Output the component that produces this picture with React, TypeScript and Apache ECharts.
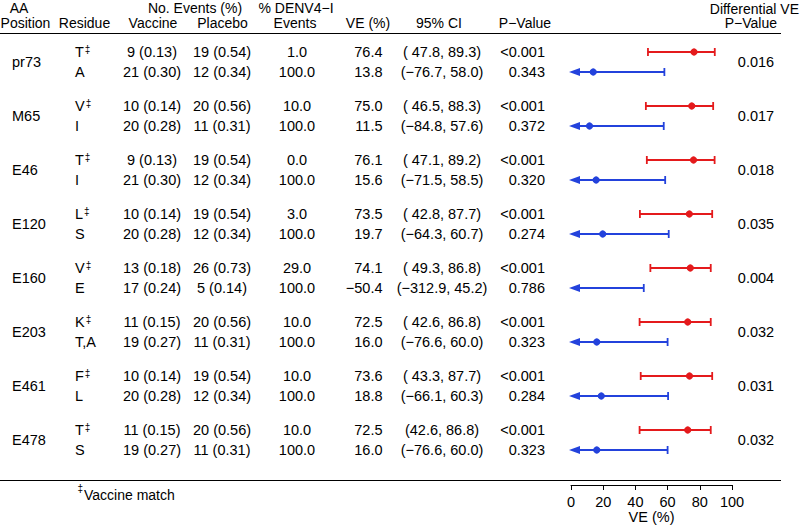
import React, { useEffect, useRef } from 'react';
import * as echarts from 'echarts';

// ---- data ----
const positions = ['pr73', 'M65', 'E46', 'E120', 'E160', 'E203', 'E461', 'E478'];
const residues = [['T', 'A'], ['V', 'I'], ['T', 'I'], ['L', 'S'], ['V', 'E'], ['K', 'T,A'], ['F', 'L'], ['T', 'S']];
const vaccineEvents = [[9, 21], [10, 20], [9, 21], [10, 20], [13, 17], [11, 19], [10, 20], [11, 19]];
const vaccinePct = [[0.13, 0.30], [0.14, 0.28], [0.13, 0.30], [0.14, 0.28], [0.18, 0.24], [0.15, 0.27], [0.14, 0.28], [0.15, 0.27]];
const placeboEvents = [[19, 12], [20, 11], [19, 12], [19, 12], [26, 5], [20, 11], [19, 12], [20, 11]];
const placeboPct = [[0.54, 0.34], [0.56, 0.31], [0.54, 0.34], [0.54, 0.34], [0.73, 0.14], [0.56, 0.31], [0.54, 0.34], [0.56, 0.31]];
const denvPct = [[1.0, 100.0], [10.0, 100.0], [0.0, 100.0], [3.0, 100.0], [29.0, 100.0], [10.0, 100.0], [10.0, 100.0], [10.0, 100.0]];
const veValues = [[76.4, 13.8], [75.0, 11.5], [76.1, 15.6], [73.5, 19.7], [74.1, -50.4], [72.5, 16.0], [73.6, 18.8], [72.5, 16.0]];
const ciLower = [[47.8, -76.7], [46.5, -84.8], [47.1, -71.5], [42.8, -64.3], [49.3, -312.9], [42.6, -76.6], [43.3, -66.1], [42.6, -76.6]];
const ciUpper = [[89.3, 58.0], [88.3, 57.6], [89.2, 58.5], [87.7, 60.7], [86.8, 45.2], [86.8, 60.0], [87.7, 60.3], [86.8, 60.0]];
const ciText = [
  ['( 47.8, 89.3)', '(\u221276.7, 58.0)'],
  ['( 46.5, 88.3)', '(\u221284.8, 57.6)'],
  ['( 47.1, 89.2)', '(\u221271.5, 58.5)'],
  ['( 42.8, 87.7)', '(\u221264.3, 60.7)'],
  ['( 49.3, 86.8)', '(\u2212312.9, 45.2)'],
  ['( 42.6, 86.8)', '(\u221276.6, 60.0)'],
  ['( 43.3, 87.7)', '(\u221266.1, 60.3)'],
  ['(42.6, 86.8)', '(\u221276.6, 60.0)'],
];
const pValues = [['<0.001', '0.343'], ['<0.001', '0.372'], ['<0.001', '0.320'], ['<0.001', '0.274'], ['<0.001', '0.786'], ['<0.001', '0.323'], ['<0.001', '0.284'], ['<0.001', '0.323']];
const diffP = ['0.016', '0.017', '0.018', '0.035', '0.004', '0.032', '0.031', '0.032'];
const xTicks = [0, 20, 40, 60, 80, 100];

// ---- style ----
const FONT = 'Arial, "Liberation Sans", Helvetica, sans-serif';
const FS = 14.5;
const RED = '#e41a1c';
const BLUE = '#2342dc';
const GROUP_STEP = 2.7;

const rowPos = (g: number, r: number) => g * GROUP_STEP + r;
const fmtNum = (v: number) => (v < 0 ? '\u2212' + Math.abs(v).toFixed(1) : v.toFixed(1));
const fmtCount = (n: number, p: number) => `${n} (${p.toFixed(2)})`;

function txt(text: string, x: number, y: number, align: string, extra: any = {}) {
  return {
    type: 'text',
    x,
    y,
    silent: true,
    style: {
      text,
      fill: '#000',
      fontSize: FS,
      fontFamily: FONT,
      align,
      textAlign: align,
      verticalAlign: 'middle',
      textVerticalAlign: 'middle',
      ...extra,
    },
  };
}

export default function App() {
  const ref = useRef<HTMLDivElement>(null);
  useEffect(() => {
    const chart = echarts.init(ref.current!, null, { renderer: 'svg' });

    const forestData: number[][] = [];
    const rowData: number[][] = [];
    positions.forEach((_, g) => {
      [0, 1].forEach((r) => {
        forestData.push([veValues[g][r], ciLower[g][r], ciUpper[g][r], rowPos(g, r), r]);
        rowData.push([50, rowPos(g, r), g, r]);
      });
    });
    const groupData = positions.map((_, g) => [50, rowPos(g, 0.5), g]);

    const H = { fontSize: 14, lineHeight: 13 };
    const L1 = 7.5;
    const L2 = 22.5;
    const header = [
      txt('AA', 19, L1, 'center', H),
      txt('Position', 25.5, L2, 'center', H),
      txt('Residue', 84.5, L2, 'center', H),
      txt('No. Events (%)', 195, L1, 'center', H),
      txt('Vaccine', 153, L2, 'center', H),
      txt('Placebo', 222.5, L2, 'center', H),
      txt('% DENV4\u2212I', 296, L1, 'center', H),
      txt('Events', 295, L2, 'center', H),
      txt('VE (%)', 368, L2, 'center', H),
      txt('95% CI', 439, L2, 'center', H),
      txt('P\u2212Value', 525, L2, 'center', H),
      txt('Differential VE', 799, 8.5, 'right', H),
      txt('P\u2212Value', 777, 23, 'right', H),
      txt('\u2021', 83, 488, 'right', { fontSize: 10 }),
      txt('Vaccine match', 84, 494.5, 'left', { fontSize: 14 }),
      { type: 'line', silent: true, shape: { x1: 0, y1: 33.5, x2: 781, y2: 33.5 }, style: { stroke: '#000', lineWidth: 1 } },
      { type: 'line', silent: true, shape: { x1: 0, y1: 480.5, x2: 781, y2: 480.5 }, style: { stroke: '#000', lineWidth: 1 } },
    ];

    const option: any = {
      animation: false,
      backgroundColor: '#fff',
      grid: { left: 571, right: 70, top: 2, height: 483, containLabel: false, outerBoundsMode: 'none' },
      xAxis: {
        type: 'value',
        min: 0,
        max: 100,
        interval: 20,
        axisLine: { show: true, onZero: false, lineStyle: { color: '#000', width: 1 } },
        axisTick: { show: true, length: 5, lineStyle: { color: '#000' } },
        splitLine: { show: false },
        axisLabel: {
          color: '#000',
          fontSize: FS,
          fontFamily: FONT,
          margin: 9,
          formatter: (v: number) => (xTicks.indexOf(v) >= 0 ? String(v) : ''),
        },
        name: 'VE (%)',
        nameLocation: 'middle',
        nameGap: 25,
        nameMoveOverlap: false,
        nameTextStyle: { color: '#000', fontSize: FS, fontFamily: FONT, lineHeight: 14 },
      },
      yAxis: { type: 'value', min: -2.5, max: 21.65, inverse: true, show: false },
      graphic: header,
      series: [
        {
          type: 'custom',
          name: 'forest',
          silent: true,
          clip: false,
          encode: { x: [0, 1, 2], y: 3 },
          data: forestData,
          renderItem: (params: any, api: any) => {
            const v = api.value(0);
            const lo = api.value(1);
            const hi = api.value(2);
            const y = api.value(3);
            const r = api.value(4);
            const color = r === 0 ? RED : BLUE;
            const [xHi, py] = api.coord([hi, y]);
            const x0 = api.coord([0, y])[0];
            const clipped = lo < 0;
            const xLo = clipped ? x0 - 2 : api.coord([lo, y])[0];
            const ls = { stroke: color, lineWidth: 1.8 };
            const children: any[] = [];
            children.push({ type: 'line', shape: { x1: xLo + (clipped ? 6 : 0), y1: py, x2: xHi, y2: py }, style: ls });
            children.push({ type: 'line', shape: { x1: xHi, y1: py - 4, x2: xHi, y2: py + 4 }, style: ls });
            if (clipped) {
              children.push({
                type: 'polygon',
                shape: { points: [[xLo, py], [xLo + 11, py - 4], [xLo + 11, py + 4]] },
                style: { fill: color },
              });
            } else {
              children.push({ type: 'line', shape: { x1: xLo, y1: py - 4, x2: xLo, y2: py + 4 }, style: ls });
            }
            if (v >= 0) {
              children.push({ type: 'circle', shape: { cx: api.coord([v, y])[0], cy: py, r: 3.6 }, style: { fill: color } });
            }
            return { type: 'group', children };
          },
        },
        {
          type: 'custom',
          name: 'rows',
          silent: true,
          clip: false,
          encode: { x: 0, y: 1 },
          data: rowData,
          renderItem: (params: any, api: any) => {
            const py = api.coord([0, api.value(1)])[1];
            const g = api.value(2);
            const r = api.value(3);
            const res = residues[g][r];
            const resEl: any =
              r === 0
                ? txt(`{m|${res}}{s|\u2021}`, 75, py, 'left', {
                    rich: {
                      m: { fontSize: FS, fontFamily: FONT, fill: '#000', lineHeight: 16 },
                      s: { fontSize: 10, fontFamily: FONT, fill: '#000', lineHeight: 11, verticalAlign: 'top', padding: [0, 0, 0, 1] },
                    },
                  })
                : txt(res, 75, py, 'left');
            return {
              type: 'group',
              children: [
                resEl,
                txt(fmtCount(vaccineEvents[g][r], vaccinePct[g][r]), 152, py, 'center'),
                txt(fmtCount(placeboEvents[g][r], placeboPct[g][r]), 222, py, 'center'),
                txt(fmtNum(denvPct[g][r]), 297, py, 'center'),
                txt(fmtNum(veValues[g][r]), 382.5, py, 'right'),
                txt(ciText[g][r], 442, py, 'center'),
                txt(pValues[g][r], 545, py, 'right'),
              ],
            };
          },
        },
        {
          type: 'custom',
          name: 'groups',
          silent: true,
          clip: false,
          encode: { x: 0, y: 1 },
          data: groupData,
          renderItem: (params: any, api: any) => {
            const py = api.coord([0, api.value(1)])[1];
            const g = api.value(2);
            return {
              type: 'group',
              children: [txt(positions[g], 12, py, 'left'), txt(diffP[g], 756, py, 'center')],
            };
          },
        },
      ],
    };
    chart.setOption(option);
    return () => chart.dispose();
  }, []);

  return (
    <div
      ref={ref}
      style={{ position: 'fixed', left: 0, top: 0, width: 802, height: 525, background: '#fff' }}
    />
  );
}
